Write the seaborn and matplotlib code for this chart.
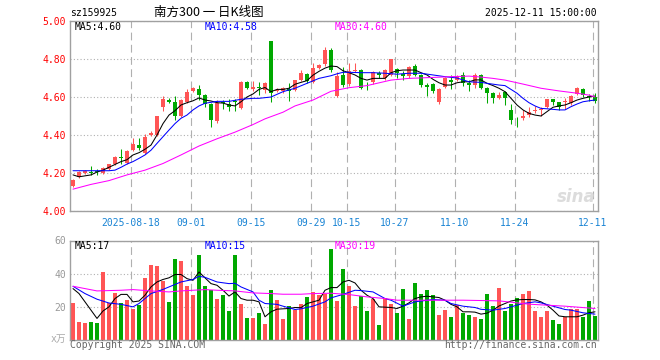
import matplotlib
matplotlib.use("Agg")
import numpy as np
import pandas as pd
import matplotlib.pyplot as plt
import seaborn as sns

# --- data (88 trading days, 2025-08-04 .. 2025-12-11) ---
opens = [4.13, 4.18, 4.20, 4.205, 4.21, 4.20, 4.22, 4.245, 4.285, 4.255,
         4.32, 4.35, 4.305, 4.40, 4.40, 4.55, 4.585, 4.575, 4.50, 4.575,
         4.63, 4.64, 4.61, 4.565, 4.475, 4.575, 4.565, 4.58, 4.54, 4.68,
         4.64, 4.652, 4.635, 4.895, 4.63, 4.632, 4.64, 4.635, 4.69, 4.72,
         4.68, 4.755, 4.775, 4.845, 4.605, 4.715, 4.67, 4.735, 4.74, 4.655,
         4.68, 4.725, 4.70, 4.715, 4.75, 4.72, 4.708, 4.765, 4.715, 4.665,
         4.67, 4.575, 4.65, 4.69, 4.69, 4.715, 4.672, 4.665, 4.715, 4.645,
         4.62, 4.595, 4.625, 4.53, 4.48, 4.487, 4.505, 4.528, 4.53, 4.546,
         4.588, 4.572, 4.572, 4.567, 4.615, 4.64, 4.605, 4.60]
highs = [4.17, 4.21, 4.215, 4.235, 4.22, 4.23, 4.25, 4.29, 4.325, 4.32,
         4.385, 4.385, 4.405, 4.42, 4.50, 4.605, 4.595, 4.605, 4.59, 4.64,
         4.65, 4.665, 4.615, 4.57, 4.585, 4.585, 4.59, 4.59, 4.685, 4.685,
         4.685, 4.68, 4.68, 4.895, 4.645, 4.655, 4.675, 4.69, 4.74, 4.725,
         4.78, 4.775, 4.865, 4.86, 4.73, 4.76, 4.777, 4.777, 4.75, 4.68,
         4.735, 4.735, 4.745, 4.80, 4.755, 4.735, 4.765, 4.775, 4.72, 4.672,
         4.675, 4.645, 4.705, 4.715, 4.715, 4.73, 4.69, 4.725, 4.72, 4.65,
         4.625, 4.625, 4.63, 4.565, 4.495, 4.53, 4.545, 4.555, 4.55, 4.59,
         4.59, 4.575, 4.595, 4.61, 4.655, 4.645, 4.615, 4.62]
lows = [4.125, 4.175, 4.195, 4.19, 4.19, 4.195, 4.215, 4.24, 4.25, 4.25,
        4.315, 4.32, 4.30, 4.395, 4.395, 4.525, 4.57, 4.48, 4.495, 4.57,
        4.625, 4.585, 4.545, 4.44, 4.465, 4.535, 4.525, 4.525, 4.535, 4.64,
        4.63, 4.61, 4.62, 4.575, 4.625, 4.62, 4.58, 4.63, 4.685, 4.675,
        4.675, 4.75, 4.765, 4.73, 4.60, 4.655, 4.66, 4.73, 4.64, 4.635,
        4.67, 4.70, 4.69, 4.71, 4.70, 4.69, 4.70, 4.71, 4.655, 4.605,
        4.62, 4.565, 4.645, 4.64, 4.685, 4.66, 4.63, 4.645, 4.64, 4.57,
        4.57, 4.59, 4.56, 4.46, 4.44, 4.48, 4.495, 4.515, 4.50, 4.54,
        4.56, 4.53, 4.535, 4.56, 4.61, 4.60, 4.58, 4.57]
closes = [4.165, 4.205, 4.21, 4.20, 4.205, 4.225, 4.245, 4.285, 4.28, 4.315,
          4.355, 4.33, 4.39, 4.41, 4.50, 4.59, 4.575, 4.50, 4.585, 4.625,
          4.645, 4.61, 4.565, 4.48, 4.57, 4.57, 4.548, 4.573, 4.68, 4.648,
          4.65, 4.645, 4.675, 4.62, 4.635, 4.646, 4.63, 4.69, 4.724, 4.685,
          4.755, 4.77, 4.845, 4.74, 4.71, 4.665, 4.735, 4.742, 4.648, 4.65,
          4.73, 4.715, 4.74, 4.80, 4.725, 4.71, 4.758, 4.716, 4.665, 4.655,
          4.63, 4.64, 4.70, 4.68, 4.71, 4.675, 4.665, 4.715, 4.648, 4.62,
          4.595, 4.61, 4.593, 4.48, 4.477, 4.50, 4.522, 4.532, 4.535, 4.588,
          4.575, 4.547, 4.58, 4.605, 4.645, 4.61, 4.598, 4.577]
volumes = [22.2, 10.8, 10.2, 10.8, 10.2, 41, 22.2, 28.2, 22.2, 24,
           18.6, 21, 37.2, 45, 44.4, 35.4, 22.8, 48.6, 47.4, 32.4,
           27, 51, 32.4, 30, 24.6, 27, 17.4, 51, 21.6, 13.2,
           13.2, 16.2, 9.6, 30, 24, 12.6, 20.4, 18, 21.6, 25.8,
           28.8, 27, 27.6, 54.6, 23.6, 42.6, 32.4, 20.4, 26.4, 17.4,
           24.6, 9, 25.2, 21.6, 16.2, 30.6, 12.6, 34.2, 27.6, 30,
           27, 15, 18, 13.8, 21, 16.2, 15, 13.8, 12.6, 27.6,
           20.4, 31.2, 17.4, 21.6, 25.2, 27.6, 29.4, 17.4, 13.8, 17.4,
           12, 9.6, 13.8, 18.6, 18.6, 13.8, 23.4, 14.4]

# moving averages as drawn on the chart
ma5_price = [4.19, 4.18, 4.185, 4.19, 4.205, 4.215, 4.23, 4.245, 4.26, 4.27,
             4.295, 4.307, 4.325, 4.347, 4.40, 4.46, 4.505, 4.528, 4.558, 4.57,
             4.58, 4.595, 4.584, 4.579, 4.57, 4.568, 4.558, 4.553, 4.575, 4.60,
             4.616, 4.64, 4.65, 4.628, 4.64, 4.64, 4.646, 4.667, 4.677, 4.686,
             4.715, 4.735, 4.752, 4.763, 4.76, 4.738, 4.728, 4.716, 4.698, 4.689,
             4.698, 4.698, 4.698, 4.728, 4.738, 4.742, 4.742, 4.742, 4.728, 4.716,
             4.693, 4.675, 4.663, 4.663, 4.675, 4.68, 4.68, 4.69, 4.69, 4.672,
             4.66, 4.646, 4.628, 4.593, 4.558, 4.532, 4.514, 4.505, 4.50, 4.523,
             4.546, 4.553, 4.558, 4.57, 4.584, 4.593, 4.60, 4.605]
ma10_price_x = [0, 2, 4, 6, 7, 8, 9, 10, 11, 12, 13, 14, 15, 16, 17, 18, 19, 20,
                21, 22, 24, 26, 28, 30, 31, 33, 35, 37, 39, 41, 43, 44, 45, 46,
                48, 50, 52, 54, 56, 58, 60, 62, 64, 65, 66, 68, 69, 71, 72, 73,
                74, 75, 76, 77, 78, 79, 80, 81, 82, 83, 84, 85, 86, 87]
ma10_price = [4.212, 4.212, 4.212, 4.212, 4.215, 4.23, 4.247, 4.26, 4.277, 4.295,
              4.32, 4.356, 4.391, 4.426, 4.46, 4.488, 4.505, 4.532, 4.553, 4.567,
              4.577, 4.577, 4.588, 4.593, 4.593, 4.60, 4.628, 4.646, 4.672, 4.698,
              4.712, 4.722, 4.73, 4.73, 4.728, 4.728, 4.725, 4.72, 4.725, 4.725,
              4.716, 4.707, 4.70, 4.69, 4.68, 4.677, 4.672, 4.663, 4.66, 4.64,
              4.62, 4.593, 4.57, 4.553, 4.54, 4.538, 4.535, 4.532, 4.532, 4.549,
              4.563, 4.575, 4.58, 4.584]
ma30_price_x = [0, 3, 6, 9, 12, 15, 18, 21, 24, 27, 30, 32, 35, 37, 40, 43, 46,
                49, 53, 56, 60, 63, 66, 68, 70, 72, 75, 78, 81, 84, 86, 87]
ma30_price = [4.115, 4.14, 4.16, 4.19, 4.215, 4.25, 4.295, 4.342, 4.38, 4.415,
              4.455, 4.485, 4.52, 4.553, 4.584, 4.63, 4.649, 4.66, 4.689, 4.698,
              4.703, 4.707, 4.71, 4.705, 4.698, 4.689, 4.668, 4.646, 4.632, 4.62,
              4.61, 4.60]

ma5_vol = [31, 28, 23, 18, 13, 17.5, 20, 25, 27.5, 27.5,
           23, 23.5, 27, 32, 35, 36.5, 37.5, 39.5, 39.5, 37,
           36, 41, 37.5, 34, 33, 30, 26.5, 29, 25, 24,
           24, 23, 14, 17, 18.6, 18.8, 19, 19.6, 19.5, 22,
           23, 24, 30, 31.6, 31.6, 35, 36, 34.4, 30, 27,
           25, 20, 19.8, 19.6, 19, 20.4, 22.4, 25, 26, 26.4,
           26, 25.6, 24, 21.5, 20, 17, 17, 16.8, 15.6, 16.2,
           18, 20.5, 22, 23.5, 24.2, 24.4, 24.4, 24.2, 23, 21,
           18, 14.5, 14, 14, 14, 15, 16.4, 17]
ma10_vol_x = [0, 2, 4, 6, 8, 10, 11, 13, 15, 16, 18, 20, 21, 22, 24, 26, 27, 28,
              30, 31, 32, 34, 35, 37, 38, 40, 42, 43, 45, 47, 48, 50, 52, 53, 55,
              57, 58, 60, 62, 63, 65, 67, 68, 70, 72, 73, 75, 77, 78, 80, 82, 83,
              85, 87]
ma10_vol = [32.4, 28, 24.6, 22.3, 21.5, 20, 22, 28, 30.5, 32, 35, 36.5, 38.4, 37.8,
            35, 34, 34.2, 32, 29, 24, 22, 21.5, 20.4, 18.4, 18.8, 20.4, 23, 25.4,
            27.5, 30, 29.8, 29, 25, 24, 20.4, 23, 23.5, 24.4, 24, 22, 20.4, 19.6,
            18.5, 18, 19, 20, 22, 23, 22.4, 20.4, 18.4, 18, 16.4, 15.6]
ma30_vol_x = [0, 2, 4, 8, 10, 13, 16, 18, 20, 22, 24, 27, 30, 33, 35, 38, 40, 43,
              46, 49, 52, 54, 60, 65, 71, 76, 82, 87]
ma30_vol = [32.4, 31, 29.6, 30, 30.4, 29.6, 29, 29.6, 30, 30.4, 30, 29.6, 28.4, 28,
            27.6, 27.6, 28, 28.2, 27.4, 26, 25, 24, 24, 24, 23.6, 21.6, 20.4, 19]

tick_idx = [10, 20, 30, 40, 46, 54, 64, 74, 87]
tick_labels = ["2025-08-18", "09-01", "09-15", "09-29", "10-15",
               "10-27", "11-10", "11-24", "12-11"]

# --- style ---
sns.set_theme(style="white")
plt.rcParams['font.family'] = ['DejaVu Sans Mono', 'Noto Sans CJK SC']

RED = "#ff5555"
GREEN = "#00a800"
FRAME = "#a0a0a0"
GRID = "#b0b0b0"
BLUE_TXT = "#1a84d4"
LW = 0.75

df = pd.DataFrame({"open": opens, "high": highs, "low": lows,
                   "close": closes, "volume": volumes})
df["x"] = np.arange(len(df))
df["color"] = np.where(df["close"] >= df["open"], RED, GREEN)

W, H = 660, 360
fig = plt.figure(figsize=(6.6, 3.6), dpi=100)
ax = fig.add_axes([70 / W, 1 - 211 / H, 528 / W, 190 / H])
axv = fig.add_axes([70 / W, 1 - 340 / H, 528 / W, 99.5 / H])

tick_pos = [i - 0.4 for i in tick_idx]
for a in (ax, axv):
    a.set_xlim(-0.5, len(df) - 0.5)
    a.set_xticks(tick_pos)
    a.xaxis.grid(True, linestyle=(0, (7, 4)), color=GRID, lw=0.8)
    a.yaxis.grid(True, linestyle=(0, (1, 2)), color=GRID, lw=0.8)
    a.set_axisbelow(True)
    for s in a.spines.values():
        s.set_visible(True)
        s.set_color(FRAME)
        s.set_linewidth(1.0)
    a.tick_params(length=0, labelsize=7, pad=3)

# price panel
ax.set_ylim(4.0, 5.0)
ax.set_yticks([4.0, 4.2, 4.4, 4.6, 4.8, 5.0])
ax.set_yticklabels([f"{v:.2f}" for v in [4.0, 4.2, 4.4, 4.6, 4.8, 5.0]])
ax.tick_params(axis='y', labelcolor="#ff0000")
ax.set_xticklabels(tick_labels)
ax.tick_params(axis='x', labelcolor=BLUE_TXT, pad=5)

ax.vlines(df["x"], df["low"], df["high"], colors=df["color"], lw=0.75, zorder=2)
body = (df["close"] - df["open"]).abs().clip(lower=0.003)
ax.bar(df["x"], body, bottom=df[["open", "close"]].min(axis=1),
       width=0.8, color=df["color"], linewidth=0, zorder=3)

sns.lineplot(x=df["x"], y=ma5_price, ax=ax, color="black", lw=LW,
             estimator=None, sort=False, zorder=4)
sns.lineplot(x=ma10_price_x, y=ma10_price, ax=ax, color="#0000ff", lw=LW,
             estimator=None, sort=False, zorder=4)
sns.lineplot(x=ma30_price_x, y=ma30_price, ax=ax, color="#ff00ff", lw=LW,
             estimator=None, sort=False, zorder=4)
ax.set_xlabel("")
ax.set_ylabel("")

ax.text((75 - 70) / 528, 0.971, "MA5:4.60", transform=ax.transAxes,
        fontsize=7, color="black", va="center")
ax.text((205 - 70) / 528, 0.971, "MA10:4.58", transform=ax.transAxes,
        fontsize=7, color="#0000ff", va="center")
ax.text((335 - 70) / 528, 0.971, "MA30:4.60", transform=ax.transAxes,
        fontsize=7, color="#ff00ff", va="center")
ax.text(0.995, 0.025, "sina", transform=ax.transAxes, ha="right", va="bottom",
        fontsize=12, fontstyle="italic", fontweight="bold", color="#dcdcdc",
        family="DejaVu Sans")

# volume panel
axv.set_ylim(0, 60)
axv.set_yticks([0, 20, 40, 60])
axv.set_yticklabels(["", "20", "40", "60"])
axv.tick_params(axis='y', labelcolor="#999999")
axv.set_xticklabels([])
axv.bar(df["x"], df["volume"], width=0.8, color=df["color"], linewidth=0, zorder=2)
sns.lineplot(x=df["x"], y=ma5_vol, ax=axv, color="black", lw=LW,
             estimator=None, sort=False, zorder=4)
sns.lineplot(x=ma10_vol_x, y=ma10_vol, ax=axv, color="#0000ff", lw=LW,
             estimator=None, sort=False, zorder=4)
sns.lineplot(x=ma30_vol_x, y=ma30_vol, ax=axv, color="#ff00ff", lw=LW,
             estimator=None, sort=False, zorder=4)
axv.set_xlabel("")
axv.set_ylabel("")
axv.text((75 - 70) / 528, 0.942, "MA5:17", transform=axv.transAxes,
         fontsize=7, color="black", va="center")
axv.text((205 - 70) / 528, 0.942, "MA10:15", transform=axv.transAxes,
         fontsize=7, color="#0000ff", va="center")
axv.text((335 - 70) / 528, 0.942, "MA30:19", transform=axv.transAxes,
         fontsize=7, color="#ff00ff", va="center")

# header / footer
fig.text(70 / W, 1 - 13 / H, "sz159925", fontsize=7, color="black", va="center")
fig.text(209 / W, 1 - 12 / H, "南方300 一 日K线图", fontsize=9, color="black",
         ha="center", va="center", family=["Noto Sans CJK SC", "DejaVu Sans"])
fig.text(597 / W, 1 - 13 / H, "2025-12-11 15:00:00", fontsize=7, color="black",
         ha="right", va="center")
fig.text(66 / W, 1 - 339 / H, "x万", fontsize=7, color="#aaaaaa",
         ha="right", va="center")
fig.text(70 / W, 1 - 345.5 / H, "Copyright 2025 SINA.COM", fontsize=7,
         color="#666666", va="center")
fig.text(597 / W, 1 - 345.5 / H, "http://finance.sina.com.cn", fontsize=7,
         color="#666666", ha="right", va="center")

fig.savefig("out.png", dpi=100)
plt.close(fig)
